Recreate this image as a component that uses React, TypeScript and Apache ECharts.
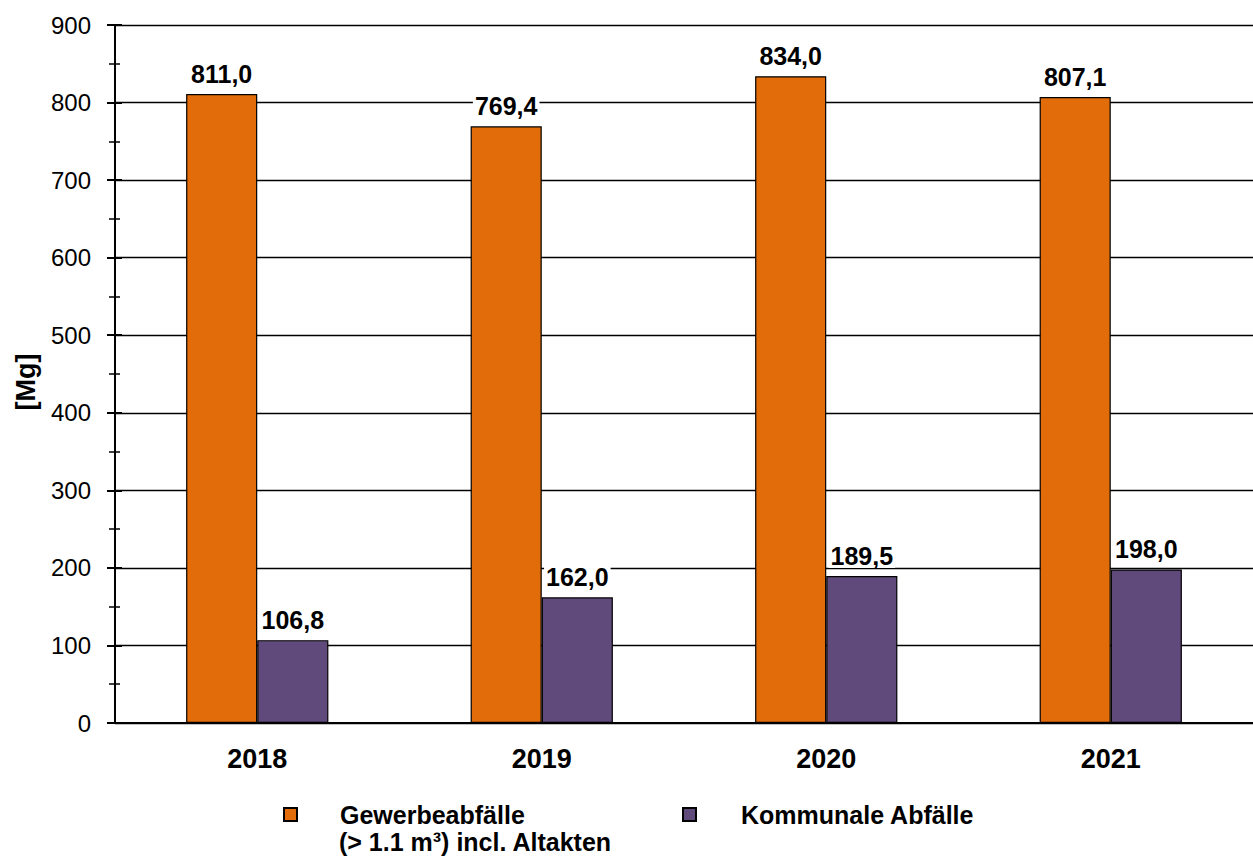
import React, { useEffect, useRef } from "react";
import * as echarts from "echarts";

const categories = ["2018", "2019", "2020", "2021"];
const gewerbe = [811.0, 769.4, 834.0, 807.1];
const kommunal = [106.8, 162.0, 189.5, 198.0];
const seriesNames = ["Gewerbeabfälle", "Kommunale Abfälle"];
const legendSecondLine = "(> 1.1 m³) incl. Altakten";
const yMin = 0;
const yMax = 900;
const yInterval = 100;

const FONT = "Liberation Sans, Arial, Helvetica, sans-serif";

export default function App() {
  const ref = useRef<HTMLDivElement>(null);
  useEffect(() => {
    if (!ref.current) return;
    const chart = echarts.init(ref.current, null, { renderer: "svg" });
    const label = {
      show: true,
      position: "top",
      distance: 8,
      fontFamily: FONT,
      fontSize: 25,
      fontWeight: "bold",
      color: "#000",
      backgroundColor: "#fff",
      padding: [0, 2, 0, 2],
      formatter: (p: any) => Number(p.value).toFixed(1).replace(".", ","),
    };
    const yCommon = {
      type: "value",
      min: yMin,
      max: yMax,
      interval: yInterval,
      position: "left",
    };
    const legendText = { fontFamily: FONT, fontSize: 25, fontWeight: "bold", color: "#000" };
    chart.setOption({
      animation: false,
      backgroundColor: "#fff",
      grid: { left: 115, right: 0, top: 25, bottom: 134, containLabel: false },
      legend: [
        {
          data: [seriesNames[0]],
          left: 283,
          top: 802,
          padding: 0,
          icon: "rect",
          itemWidth: 13,
          itemHeight: 13,
          selectedMode: false,
          textStyle: { ...legendText, padding: [0, 0, 0, 38] },
        },
        {
          data: [seriesNames[1]],
          left: 682,
          top: 802,
          padding: 0,
          icon: "rect",
          itemWidth: 13,
          itemHeight: 13,
          selectedMode: false,
          textStyle: { ...legendText, padding: [0, 0, 0, 40] },
        },
      ],
      graphic: [
        {
          type: "text",
          left: 339,
          top: 829,
          style: { text: legendSecondLine, font: `bold 25px ${FONT}`, fill: "#000" },
        },
      ],
      xAxis: {
        type: "category",
        data: categories,
        axisLine: { show: true, lineStyle: { color: "#000", width: 2 } },
        axisTick: { show: false },
        axisLabel: { fontFamily: FONT, fontSize: 27, fontWeight: "bold", color: "#000", margin: 22 },
      },
      yAxis: [
        {
          ...yCommon,
          name: "[Mg]",
          nameLocation: "middle",
          nameGap: 76,
          nameTextStyle: { fontFamily: FONT, fontSize: 27, fontWeight: "bold", color: "#000", padding: [0, 16, 0, 0] },
          axisLine: { show: true, lineStyle: { color: "#000", width: 2 } },
          axisTick: { show: true, length: 8, lineStyle: { color: "#000", width: 2 } },
          minorTick: { show: true, splitNumber: 2, length: 6, lineStyle: { color: "#000", width: 1.5 } },
          splitLine: { show: true, lineStyle: { color: "#000", width: 1.3 } },
          axisLabel: { fontFamily: FONT, fontSize: 24, color: "#000", margin: 24 },
        },
        {
          ...yCommon,
          axisLine: { show: false },
          axisTick: { show: true, inside: true, length: 7, lineStyle: { color: "#000", width: 2 } },
          minorTick: { show: true, splitNumber: 2, length: 5, lineStyle: { color: "#000", width: 1.5 } },
          splitLine: { show: false },
          axisLabel: { show: false },
        },
      ],
      series: [
        {
          name: seriesNames[0],
          type: "bar",
          data: gewerbe,
          barWidth: "25%",
          barGap: "0%",
          itemStyle: { color: "#E36C0A", borderColor: "#000", borderWidth: 1.2 },
          label,
        },
        {
          name: seriesNames[1],
          type: "bar",
          data: kommunal,
          barWidth: "25%",
          barGap: "0%",
          itemStyle: { color: "#604A7B", borderColor: "#000", borderWidth: 1.2 },
          label,
        },
      ],
    });
    return () => chart.dispose();
  }, []);
  return (
    <div
      ref={ref}
      style={{ position: "fixed", left: 0, top: 0, width: 1253, height: 857, background: "#fff" }}
    />
  );
}
